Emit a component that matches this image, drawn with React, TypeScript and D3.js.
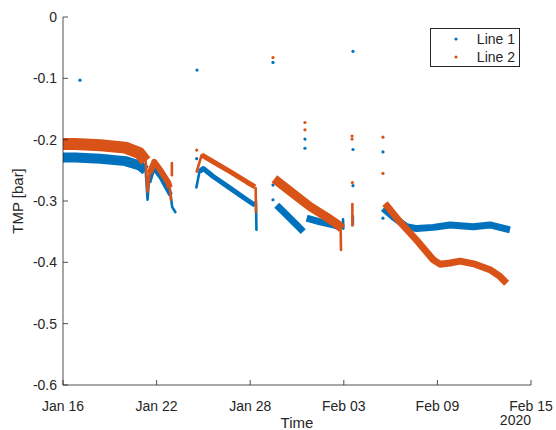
import React from "react";
import * as d3 from "d3";

// time values are days since 2020-01-16 00:00
const START = new Date(2020, 0, 16);
const END = new Date(2020, 1, 15);
const xTickDays = [0, 6, 12, 18, 24, 30];
const yTicks = [0, -0.1, -0.2, -0.3, -0.4, -0.5, -0.6];
const seriesNames = ["Line 1", "Line 2"];

// Line 1 (dense runs of samples)
const line1RunA = [[0, -0.229], [0.8, -0.229], [2.4, -0.231], [4.0, -0.235], [4.9, -0.242], [5.3, -0.25]];
const line1RunB = [[5.5, -0.27], [5.8, -0.245], [6.3, -0.262], [6.75, -0.283], [6.9, -0.29]];
const line1RunC = [[8.75, -0.252], [8.99, -0.247], [9.63, -0.26], [10.71, -0.279], [11.78, -0.298], [12.31, -0.307]];
const line1RunD1 = [[13.7, -0.307], [14.34, -0.323], [14.98, -0.339], [15.4, -0.35]];
const line1RunD2 = [[15.62, -0.328], [16.47, -0.334], [17.33, -0.339], [17.87, -0.343]];
const line1RunE = [[20.53, -0.312], [21.17, -0.326], [22.03, -0.342], [22.67, -0.345], [23.74, -0.343], [24.81, -0.339], [26.3, -0.342], [27.37, -0.339], [28.65, -0.347]];
const line1Steps = [
  [[5.3, -0.25], [5.42, -0.298], [5.5, -0.27]],
  [[6.9, -0.29], [7.0, -0.31], [7.2, -0.318]],
  [[8.55, -0.278], [8.75, -0.252]],
  [[12.37, -0.3], [12.4, -0.347]],
  [[17.95, -0.33], [17.97, -0.345]],
  [[18.58, -0.325], [18.58, -0.338]],
];
const line1Single = [[1.09, -0.103], [8.59, -0.0865], [8.57, -0.231], [13.46, -0.074], [13.46, -0.274], [13.46, -0.298], [15.51, -0.199], [15.51, -0.214], [18.59, -0.056], [18.59, -0.216], [18.59, -0.275], [20.51, -0.22], [20.51, -0.328]];

// Line 2
const line2RunA = [[0, -0.207], [0.8, -0.207], [2.4, -0.209], [4.0, -0.213], [4.9, -0.222], [5.3, -0.235]];
const line2RunB = [[5.55, -0.255], [5.85, -0.236], [6.3, -0.252], [6.75, -0.27], [6.85, -0.278]];
const line2RunC = [[8.89, -0.225], [9.63, -0.236], [10.71, -0.252], [11.78, -0.269], [12.31, -0.277]];
const line2RunD = [[13.55, -0.264], [14.76, -0.288], [15.83, -0.309], [16.9, -0.326], [17.65, -0.339], [17.87, -0.345]];
const line2RunE = [[20.64, -0.304], [21.6, -0.334], [22.67, -0.364], [23.74, -0.396], [24.17, -0.403], [24.81, -0.401], [25.45, -0.398], [26.41, -0.403], [27.37, -0.412], [28.01, -0.423], [28.44, -0.434]];
const line2Steps = [
  [[5.3, -0.235], [5.42, -0.285], [5.55, -0.255]],
  [[6.85, -0.278], [6.92, -0.298]],
  [[6.98, -0.238], [6.98, -0.258]],
  [[8.57, -0.252], [8.89, -0.225]],
  [[12.35, -0.279], [12.37, -0.318]],
  [[17.8, -0.347], [17.82, -0.38]],
  [[18.55, -0.305], [18.55, -0.34]],
];
const line2Single = [[8.57, -0.217], [13.46, -0.066], [15.51, -0.172], [15.51, -0.184], [18.53, -0.194], [18.53, -0.199], [18.55, -0.27], [20.51, -0.196], [20.51, -0.255]];

const W = 556, H = 430;
const FONT = "'Liberation Sans', Arial, Helvetica, sans-serif";
const AX = "#262626";
const C1 = "#0072BD";
const C2 = "#D95319";

const toDate = (d: number) => new Date(START.getTime() + d * 864e5);

export default function App() {
  const x = d3.scaleTime().domain([START, END]).range([63, 531]);
  const y = d3.scaleLinear().domain([-0.6, 0]).range([385, 17]);
  const line = d3.line<number[]>().x((p) => x(toDate(p[0]))).y((p) => y(p[1]));
  const fmt = d3.timeFormat("%b %d");

  const runs1 = [line1RunA, line1RunB, line1RunC, line1RunD1, line1RunD2, line1RunE];
  const runW1 = [10, 5, 5, 7, 7, 7];
  const runs2 = [line2RunA, line2RunB, line2RunC, line2RunD, line2RunE];
  const runW2 = [12, 6, 5, 9, 7];

  const drawSeries = (runs: number[][][], widths: number[], steps: number[][][], singles: number[][], color: string) => (
    <g>
      {runs.map((r, i) => (
        <path key={"r" + i} d={line(r) || ""} fill="none" stroke={color} strokeWidth={widths[i]} strokeLinejoin="round" strokeLinecap="butt" />
      ))}
      {steps.map((r, i) => (
        <path key={"s" + i} d={line(r) || ""} fill="none" stroke={color} strokeWidth={2.6} strokeLinejoin="round" strokeLinecap="round" />
      ))}
      {singles.map((p, i) => (
        <circle key={"p" + i} cx={x(toDate(p[0]))} cy={y(p[1])} r={1.6} fill={color} />
      ))}
    </g>
  );

  return (
    <svg width={W} height={H} style={{ position: "absolute", left: 0, top: 0, background: "#fff" }} fontFamily={FONT}>
      <rect width={W} height={H} fill="#fff" />
      {drawSeries(runs1, runW1, line1Steps, line1Single, C1)}
      {drawSeries(runs2, runW2, line2Steps, line2Single, C2)}
      {/* axes */}
      <line x1={63} x2={63} y1={y(0)} y2={y(-0.6)} stroke={AX} strokeWidth={1} opacity={0.8} />
      <line x1={63} x2={531} y1={385} y2={385} stroke={AX} strokeWidth={1} opacity={0.8} />
      {yTicks.map((t) => (
        <g key={t}>
          <line x1={63} x2={68} y1={y(t)} y2={y(t)} stroke={AX} opacity={0.8} />
          <text x={57} y={y(t)} dy="0.35em" textAnchor="end" fontSize={14} fill={AX}>
            {t === 0 ? "0" : t.toFixed(1)}
          </text>
        </g>
      ))}
      {xTickDays.map((d) => {
        const xx = x(toDate(d));
        return (
          <g key={d}>
            <line x1={xx} x2={xx} y1={385} y2={380} stroke={AX} opacity={0.8} />
            <text x={xx} y={411} textAnchor="middle" fontSize={14} fill={AX}>
              {fmt(toDate(d))}
            </text>
          </g>
        );
      })}
      <text x={297} y={428} textAnchor="middle" fontSize={15} fill={AX}>Time</text>
      <text x={531} y={425} textAnchor="end" fontSize={14} fill={AX}>2020</text>
      <text transform={`translate(23,${y(-0.3)}) rotate(-90)`} textAnchor="middle" fontSize={15} fill={AX}>TMP [bar]</text>
      {/* legend */}
      <rect x={430.5} y={28.5} width={89} height={38} fill="#fff" stroke={AX} strokeWidth={1} />
      {seriesNames.map((n, i) => (
        <g key={n}>
          <circle cx={456} cy={39 + i * 18} r={1.6} fill={i === 0 ? C1 : C2} />
          <text x={515} y={39 + i * 18} dy="0.35em" textAnchor="end" fontSize={14} fill={AX}>{n}</text>
        </g>
      ))}
    </svg>
  );
}
